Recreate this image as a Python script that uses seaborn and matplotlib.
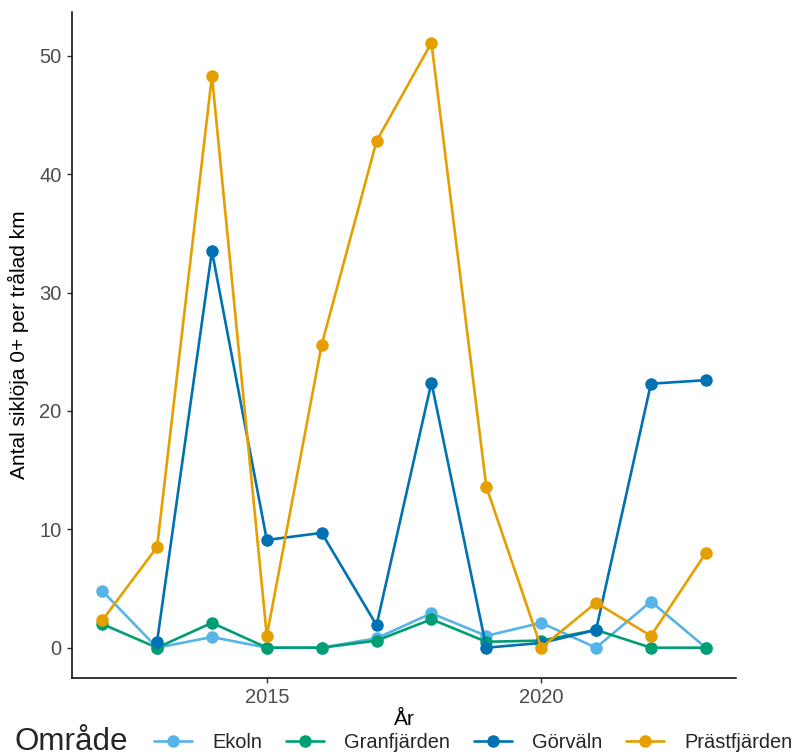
import numpy as np
import pandas as pd
import matplotlib
matplotlib.use("Agg")
import matplotlib.pyplot as plt
import seaborn as sns

# Young-of-the-year vendace (siklöja 0+) per trawled km, by area and year
years = list(range(2012, 2024))
ekoln = [4.8, 0.0, 0.9, 0.0, 0.0, 0.8, 2.9, 1.0, 2.1, 0.0, 3.9, 0.0]
granfjarden = [2.0, 0.0, 2.1, 0.0, 0.0, 0.6, 2.4, 0.5, 0.6, 1.5, 0.0, 0.0]
gorvaln = [np.nan, 0.5, 33.5, 9.1, 9.7, 1.9, 22.4, 0.0, 0.4, 1.5, 22.3, 22.6]
prastfjarden = [2.3, 8.5, 48.3, 1.0, 25.6, 42.8, 51.1, 13.6, 0.0, 3.8, 1.0, 8.0]

areas = ["Ekoln", "Granfjärden", "Görväln", "Prästfjärden"]
colors = ["#56B4E9", "#009E73", "#0072B2", "#E69F00"]
x_ticks = [2015, 2020]
y_ticks = [0, 10, 20, 30, 40, 50]

series = dict(zip(areas, [ekoln, granfjarden, gorvaln, prastfjarden]))
df = pd.concat(
    [pd.DataFrame({"År": years, "Antal": vals, "Område": name}) for name, vals in series.items()],
    ignore_index=True,
).dropna()

sns.set_theme(style="ticks")
plt.rcParams["font.family"] = ["Liberation Sans", "DejaVu Sans"]

fig = plt.figure(figsize=(7.96, 7.56), dpi=100)
ax = fig.add_axes([72 / 796, 1 - 678 / 756, 664 / 796, 666 / 756])

sns.lineplot(
    data=df, x="År", y="Antal", hue="Område", hue_order=areas,
    palette=colors, marker="o", markersize=9, markeredgewidth=0,
    linewidth=1.9, ax=ax,
)

ax.set_xlim(2011.45, 2023.55)
ax.set_ylim(-2.56, 53.7)
ax.set_xticks(x_ticks)
ax.set_yticks(y_ticks)
ax.tick_params(axis="both", labelsize=14.5, labelcolor="#4D4D4D", color="#333333",
               length=3.5, width=1.0, pad=4)
for side in ["top", "right"]:
    ax.spines[side].set_visible(False)
for side in ["left", "bottom"]:
    ax.spines[side].set_color("black")
    ax.spines[side].set_linewidth(1.1)

ax.set_xlabel("År", fontsize=15, color="black", labelpad=2)
ax.set_ylabel("Antal siklöja 0+ per trålad km", fontsize=15, color="black", labelpad=7)

sns.move_legend(
    ax, "center", bbox_to_anchor=(473 / 796, 1 - 742 / 756), bbox_transform=fig.transFigure,
    ncol=4, frameon=False, title=None, fontsize=14.4,
    handlelength=1.9, handletextpad=1.0, columnspacing=1.2,
)
fig.text(15 / 796, 1 - 742 / 756, "Område", fontsize=22.6, ha="left", va="center")

fig.savefig("out.png", dpi=100)
